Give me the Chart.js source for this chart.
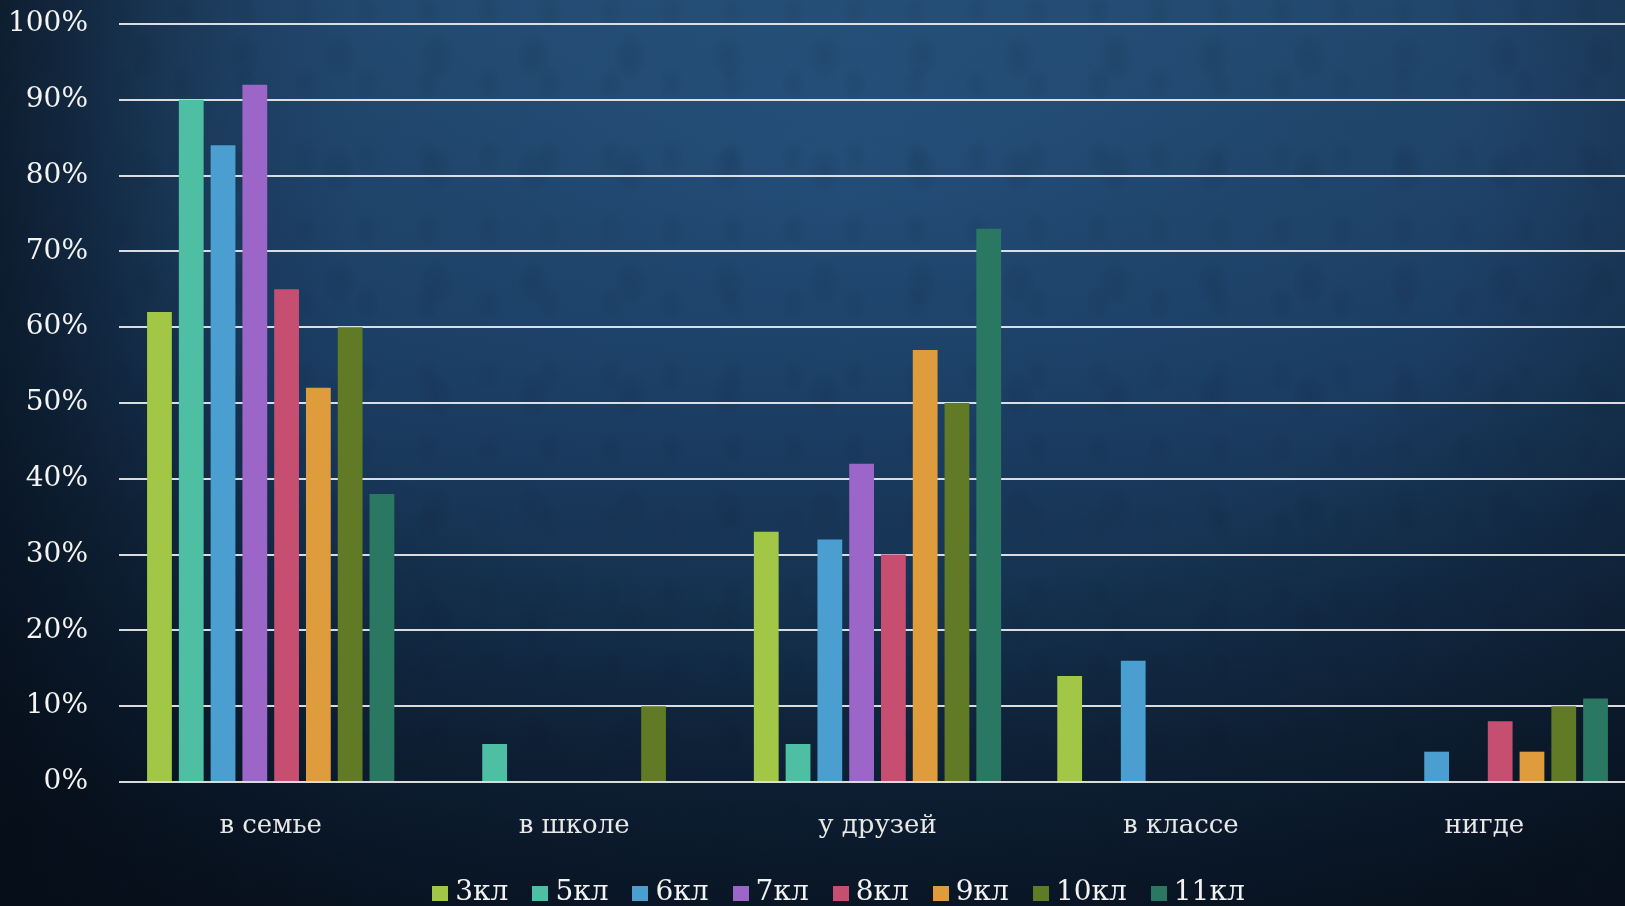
<!DOCTYPE html>
<html>
<head>
<meta charset="utf-8">
<script src="https://cdn.jsdelivr.net/npm/chart.js@4/dist/chart.umd.min.js"></script>
<style>
  html, body { margin: 0; padding: 0; width: 1625px; height: 906px; overflow: hidden; }
  body {
    background:
      radial-gradient(ellipse 22px 30px at 50% 50%, rgba(8,22,42,0.10) 0%, rgba(8,22,42,0.05) 55%, rgba(8,22,42,0) 80%) 0 0 / 97px 113px,
      radial-gradient(ellipse 16px 22px at 50% 50%, rgba(8,22,42,0.08) 0%, rgba(8,22,42,0.04) 55%, rgba(8,22,42,0) 80%) 31px 47px / 61px 73px,
      linear-gradient(90deg, rgba(5,12,22,0.55) 0%, rgba(5,12,22,0.2) 10%, rgba(5,12,22,0) 22%),
      radial-gradient(ellipse 78% 95% at 52% 18%, rgba(30,70,110,0) 0%, rgba(15,35,58,0.25) 50%, rgba(8,18,32,0.7) 85%, rgba(6,14,24,0.85) 100%),
      linear-gradient(180deg, #28537e 0%, #1f4670 40%, #163453 72%, #0e2136 100%);
  }
  #wrap { position: relative; width: 1636px; height: 906px; }
</style>
</head>
<body>
<div id="wrap"><canvas id="c"></canvas></div>
<script>
const categories = ["в семье", "в школе", "у друзей", "в классе", "нигде"];
const seriesNames = ["3кл", "5кл", "6кл", "7кл", "8кл", "9кл", "10кл", "11кл"];
const v3  = [62, 0, 33, 14, 0];
const v5  = [90, 5, 5, 0, 0];
const v6  = [84, 0, 32, 16, 4];
const v7  = [92, 0, 42, 0, 0];
const v8  = [65, 0, 30, 0, 8];
const v9  = [52, 0, 57, 0, 4];
const v10 = [60, 10, 50, 0, 10];
const v11 = [38, 0, 73, 0, 11];
const seriesValues = [v3, v5, v6, v7, v8, v9, v10, v11];
const colors = ["#A2C645", "#4FBFA3", "#4A9ED0", "#9B66C8", "#C64F71", "#DF9C3C", "#607A26", "#2B7862"];
const yTicks = [0, 10, 20, 30, 40, 50, 60, 70, 80, 90, 100];

function legendSwatch(color) {
  const cv = document.createElement('canvas');
  cv.width = 16; cv.height = 15;
  const g = cv.getContext('2d');
  g.fillStyle = color;
  g.fillRect(0, 0, 16, 15);
  return cv;
}

const datasets = seriesNames.map((name, i) => ({
  label: name,
  data: seriesValues[i],
  backgroundColor: colors[i],
  borderWidth: 0,
  pointStyle: legendSwatch(colors[i]),
  categoryPercentage: 0.838,
  barPercentage: 0.78
}));

// the legend is centred slightly right of the canvas centre
const legendShift = {
  id: 'legendShift',
  afterLayout(chart) {
    if (chart.legend) { chart.legend.left += 48; }
  }
};

new Chart(document.getElementById('c'), {
  type: 'bar',
  data: { labels: categories, datasets },
  plugins: [legendShift],
  options: {
    responsive: true,
    maintainAspectRatio: false,
    animation: false,
    layout: { padding: { top: 24, right: 0, bottom: 0, left: 0 } },
    plugins: {
      tooltip: { enabled: false },
      legend: {
        position: 'bottom',
        maxHeight: 58,
        labels: {
          color: '#f2f2f2',
          font: { family: 'DejaVu Serif', size: 28 },
          usePointStyle: true,
          pointStyleWidth: 2,
          boxHeight: 15,
          padding: 31
        }
      }
    },
    scales: {
      x: {
        grid: { display: false },
        border: { display: false },
        ticks: {
          color: '#e8e8e8',
          font: { family: 'DejaVu Serif', size: 26 },
          padding: 21
        },
        afterFit: (s) => { s.height = 66; }
      },
      y: {
        min: 0,
        max: 100,
        afterBuildTicks: (s) => { s.ticks = yTicks.map(v => ({ value: v })); },
        grid: { color: 'rgba(236,236,236,0.92)', lineWidth: 2, drawTicks: false },
        border: { display: false },
        ticks: {
          color: '#f4f4f4',
          font: { family: 'DejaVu Serif', size: 28 },
          padding: 31,
          callback: (v) => v + '%'
        },
        afterFit: (s) => { s.width = 119; s.paddingTop = 0; s.paddingBottom = 0; }
      }
    }
  }
});
</script>
</body>
</html>
